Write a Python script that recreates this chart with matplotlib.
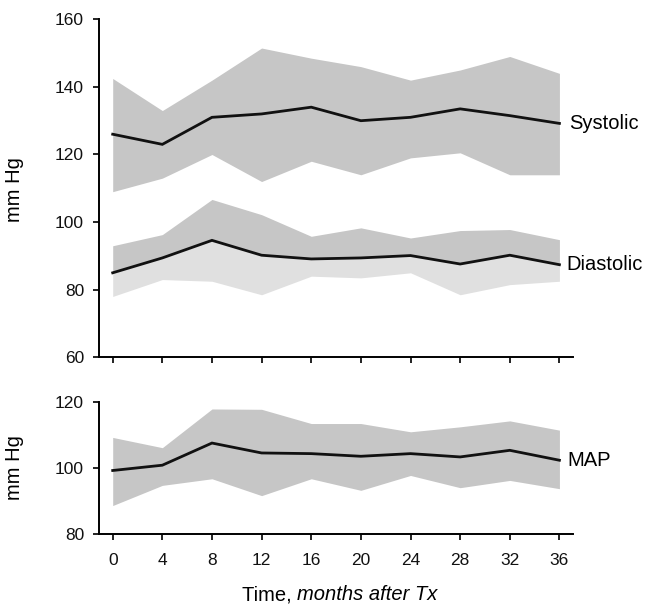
import matplotlib
matplotlib.use("Agg")
import matplotlib.pyplot as plt

months = [0, 4, 8, 12, 16, 20, 24, 28, 32, 36]

sys_mean = [126, 123, 131, 132, 134, 130, 131, 133.5, 131.5, 129.2]
sys_upper = [142.5, 133, 142, 151.5, 148.5, 146, 142, 145, 149, 144]
sys_lower = [109, 113, 120, 112, 118, 114, 119, 120.5, 114, 114]

dia_mean = [85, 89.4, 94.6, 90.2, 89.1, 89.4, 90.1, 87.6, 90.2, 87.4]
dia_upper = [93, 96.3, 106.7, 102.2, 95.8, 98.3, 95.3, 97.5, 97.8, 94.8]
dia_lower = [78, 83, 82.5, 78.5, 84, 83.5, 85, 78.5, 81.5, 82.5]

map_mean = [99.2, 100.8, 107.5, 104.5, 104.3, 103.5, 104.3, 103.3, 105.3, 102.3]
map_upper = [109.2, 106.1, 117.8, 117.7, 113.4, 113.4, 110.9, 112.4, 114.2, 111.4]
map_lower = [88.6, 94.7, 96.7, 91.6, 96.7, 93.2, 97.7, 94.0, 96.2, 93.7]

top_yticks = [60, 80, 100, 120, 140, 160]
bot_yticks = [80, 100, 120]

plt.rcParams['font.family'] = ['Liberation Sans', 'DejaVu Sans']

W, H = 645, 606
fig = plt.figure(figsize=(W / 100, H / 100), dpi=100)

left = 99.3 / W
right = 572.7 / W
ax1 = fig.add_axes([left, 1 - 357.3 / H, right - left, (357.3 - 19.3) / H])
ax2 = fig.add_axes([left, 1 - 534 / H, right - left, (534 - 401.7) / H])

band_dark = '#c6c6c6'
band_light = '#e0e0e0'
lw = 2.0
lab_fs = 14.5
tick_fs = 12.5

for ax in (ax1, ax2):
    ax.set_xlim(-1.08, 37.07)
    ax.spines['top'].set_visible(False)
    ax.spines['right'].set_visible(False)
    for s in ('left', 'bottom'):
        ax.spines[s].set_linewidth(1.4)
    ax.set_xticks(months)
    ax.tick_params(axis='both', direction='out', length=4.5, width=1.3,
                   labelsize=tick_fs, colors='#111111')
    ax.tick_params(axis='y', pad=6.5)
    ax.tick_params(axis='x', pad=9.5)

# top panel
ax1.fill_between(months, sys_lower, sys_upper, color=band_dark, lw=0)
ax1.fill_between(months, dia_mean, dia_upper, color=band_dark, lw=0)
ax1.fill_between(months, dia_lower, dia_mean, color=band_light, lw=0)
ax1.plot(months, sys_mean, color='#111111', lw=lw, solid_joinstyle='miter')
ax1.plot(months, dia_mean, color='#111111', lw=lw, solid_joinstyle='miter')
ax1.set_ylim(60, 160)
ax1.set_yticks(top_yticks)
ax1.set_xticklabels([])
ax1.annotate('Systolic', xy=(months[-1], sys_mean[-1]), xytext=(7, 0),
             textcoords='offset points', va='center', ha='left', fontsize=lab_fs,
             annotation_clip=False)
ax1.annotate('Diastolic', xy=(months[-1], dia_mean[-1]), xytext=(5, 0),
             textcoords='offset points', va='center', ha='left', fontsize=lab_fs,
             annotation_clip=False)

# bottom panel
ax2.fill_between(months, map_lower, map_upper, color=band_dark, lw=0)
ax2.plot(months, map_mean, color='#111111', lw=lw, solid_joinstyle='miter')
ax2.set_ylim(80, 120)
ax2.set_yticks(bot_yticks)
ax2.set_xticklabels([str(m) for m in months])
ax2.annotate('MAP', xy=(months[-1], map_mean[-1]), xytext=(6, 0),
             textcoords='offset points', va='center', ha='left', fontsize=lab_fs,
             annotation_clip=False)

fig.text(15 / W, 1 - 190 / H, 'mm Hg', rotation=90, ha='center', va='center', fontsize=lab_fs)
fig.text(15 / W, 1 - 468 / H, 'mm Hg', rotation=90, ha='center', va='center', fontsize=lab_fs)

t1 = fig.text(242 / W, 1 - 595 / H, 'Time, ', ha='left', va='center', fontsize=lab_fs)
fig.canvas.draw()
bb = t1.get_window_extent()
fig.text(bb.x1 / W, 1 - 595 / H, 'months after Tx', ha='left', va='center',
         fontsize=lab_fs, style='italic')

fig.savefig('out.png', dpi=100, facecolor='white')
